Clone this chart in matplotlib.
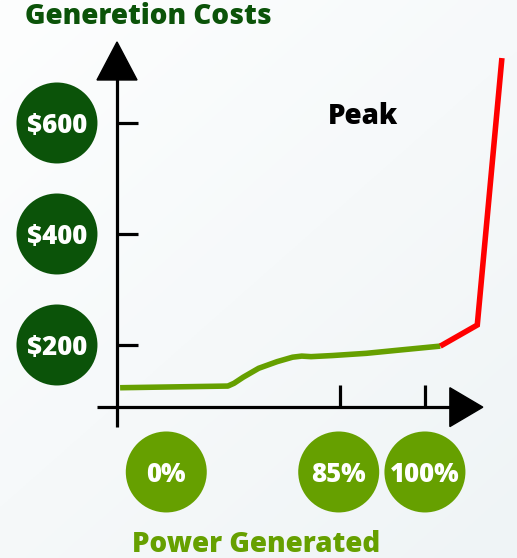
import numpy as np
import matplotlib
matplotlib.use("Agg")
import matplotlib.pyplot as plt
from matplotlib.patches import Polygon

# ---- data ----
title = "Generetion Costs"
xlabel = "Power Generated"
peak_label = "Peak"

y_tick_values = [200, 400, 600]
y_tick_labels = ["$200", "$400", "$600"]

x_tick_positions = [72.4, 100]            # schematic axis units
x_label_positions = [16, 72, 100]
x_label_texts = ["0%", "85%", "100%"]

green_x = [1, 36, 38, 41, 46, 52, 57, 60, 63, 70, 81, 92, 105]
green_y = [123, 126, 131, 142, 158, 170, 178, 180, 179, 181, 185, 191, 198]
red_x = [105, 117, 125]
red_y = [198, 236, 717]

# ---- styling ----
DARK_GREEN = "#0b5309"
LIGHT_GREEN = "#66a000"
LINE_GREEN = "#66a000"
RED = "#ff0000"
FONT = "Open Sans"
WEIGHT = "heavy"

W, H, DPI = 517, 558, 100
fig = plt.figure(figsize=(W / DPI, H / DPI), dpi=DPI)
ax = fig.add_axes([0, 0, 1, 1])
XL = (-38.0, 129.9)
YL = (-183.8, 821.6)
ax.set_xlim(*XL)
ax.set_ylim(*YL)
ax.axis("off")

# background gradient
gy, gx = np.mgrid[0:1:200j, 0:1:200j]
t = np.clip(0.55 * gy + 0.45 * gx, 0, 1)
top = np.array([0xfd, 0xfe, 0xfe]) / 255
bot = np.array([0xef, 0xf4, 0xf6]) / 255
img = top[None, None, :] * (1 - t[..., None]) + bot[None, None, :] * t[..., None]
ax.imshow(img, extent=[XL[0], XL[1], YL[0], YL[1]], origin="upper",
          aspect="auto", zorder=0)

base_y = 88          # baseline where the x axis sits
axis_lw = 2.3

# x axis with arrow
ax.plot([-6.5, 108.5], [base_y, base_y], color="black", lw=axis_lw,
        solid_capstyle="butt", zorder=3)
ax.add_patch(Polygon([[108.1, base_y + 35], [118.8, base_y], [108.1, base_y - 35]],
                     closed=True, color="black", zorder=3))
# y axis with arrow
ax.plot([0, 0], [52, 680], color="black", lw=axis_lw,
        solid_capstyle="butt", zorder=3)
ax.add_patch(Polygon([[-6.5, 677.5], [0, 746], [6.5, 677.5]],
                     closed=True, color="black", zorder=3))

# ticks
for v in y_tick_values:
    ax.plot([0, 6.8], [v, v], color="black", lw=axis_lw,
            solid_capstyle="butt", zorder=3)
for u in x_tick_positions:
    ax.plot([u, u], [base_y, 128], color="black", lw=axis_lw,
            solid_capstyle="butt", zorder=3)

# cost line
ax.plot(green_x, green_y, color=LINE_GREEN, lw=4.0, solid_capstyle="butt",
        solid_joinstyle="round", zorder=4)
ax.plot(red_x, red_y, color=RED, lw=4.0, solid_capstyle="butt",
        solid_joinstyle="miter", zorder=4)

# y label circles
circle_s = 3400
ax.scatter([-19.5] * len(y_tick_values), y_tick_values, s=circle_s,
           color=DARK_GREEN, edgecolors="none", zorder=5)
for v, lab in zip(y_tick_values, y_tick_labels):
    ax.text(-19.5, v, lab, color="white", fontsize=18.5, fontweight=WEIGHT,
            family=FONT, ha="center", va="center_baseline", zorder=6)

# x label circles
label_y = -28.8
ax.scatter(x_label_positions, [label_y] * len(x_label_positions), s=circle_s,
           color=LIGHT_GREEN, edgecolors="none", zorder=5)
for u, lab in zip(x_label_positions, x_label_texts):
    ax.text(u, label_y, lab, color="white", fontsize=18.5, fontweight=WEIGHT,
            family=FONT, ha="center", va="center_baseline", zorder=6)

# titles
fig.text(25 / W, 1 - 17 / H, title, color=DARK_GREEN, fontsize=20,
         fontweight=WEIGHT, family=FONT, ha="left", va="center")
fig.text(132 / W, 1 - 544 / H, xlabel, color=LIGHT_GREEN, fontsize=20,
         fontweight=WEIGHT, family=FONT, ha="left", va="center")
fig.text(328 / W, 1 - 116 / H, peak_label, color="black", fontsize=20,
         fontweight=WEIGHT, family=FONT, ha="left", va="center")

fig.savefig("out.png", dpi=DPI)
